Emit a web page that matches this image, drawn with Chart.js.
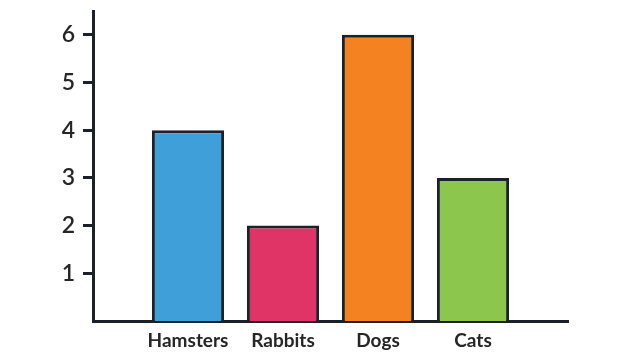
<!DOCTYPE html>
<html>
<head>
<meta charset="utf-8">
<script src="https://cdn.jsdelivr.net/npm/chart.js@4"></script>
<style>
  html, body { margin: 0; padding: 0; background: #fff; }
  #petChart { display: block; }
</style>
</head>
<body>
<canvas id="petChart" width="630" height="359"></canvas>
<script>
// pets chart data (empty slots at each end give the space before/after the bars)
const categories = ['', 'Hamsters', 'Rabbits', 'Dogs', 'Cats', ''];
const petCounts = [null, 4, 2, 6, 3, null];
const barColors = ['#3f9fd9', '#3f9fd9', '#e03466', '#f58220', '#8cc64c', '#8cc64c'];
const yTicks = [1, 2, 3, 4, 5, 6];

const inkColor = '#1c2129';
const textColor = '#262626';

const ctx = document.getElementById('petChart').getContext('2d');
new Chart(ctx, {
    type: 'bar',
    data: {
        labels: categories,
        datasets: [{
            data: petCounts,
            backgroundColor: barColors,
            borderColor: inkColor,
            borderWidth: 3,
            barPercentage: 0.76,
            categoryPercentage: 1
        }]
    },
    options: {
        responsive: false,
        animation: false,
        layout: {
            padding: { top: 11, right: 62, left: 0, bottom: 0 }
        },
        plugins: {
            legend: { display: false },
            tooltip: { enabled: false }
        },
        scales: {
            x: {
                offset: false,
                grid: { drawOnChartArea: false, drawTicks: false },
                border: { color: inkColor, width: 3 },
                ticks: {
                    padding: 8,
                    color: textColor,
                    maxRotation: 0,
                    autoSkip: false,
                    font: { family: 'Lato', size: 19, weight: 'bold' }
                },
                afterFit: function(scale) { scale.height = 38; }
            },
            y: {
                min: 0,
                max: 6.5,
                grid: {
                    drawOnChartArea: false,
                    tickLength: 10,
                    tickWidth: 3,
                    tickColor: inkColor
                },
                border: { color: inkColor, width: 3 },
                ticks: {
                    stepSize: 1,
                    padding: 8,
                    color: textColor,
                    font: { family: 'Lato', size: 23, weight: '600' }
                },
                afterBuildTicks: function(scale) {
                    scale.ticks = yTicks.map(v => ({ value: v }));
                },
                afterFit: function(scale) {
                    scale.width = 93;
                    scale.paddingTop = 0;
                    scale.paddingBottom = 0;
                }
            }
        }
    }
});
</script>
</body>
</html>
